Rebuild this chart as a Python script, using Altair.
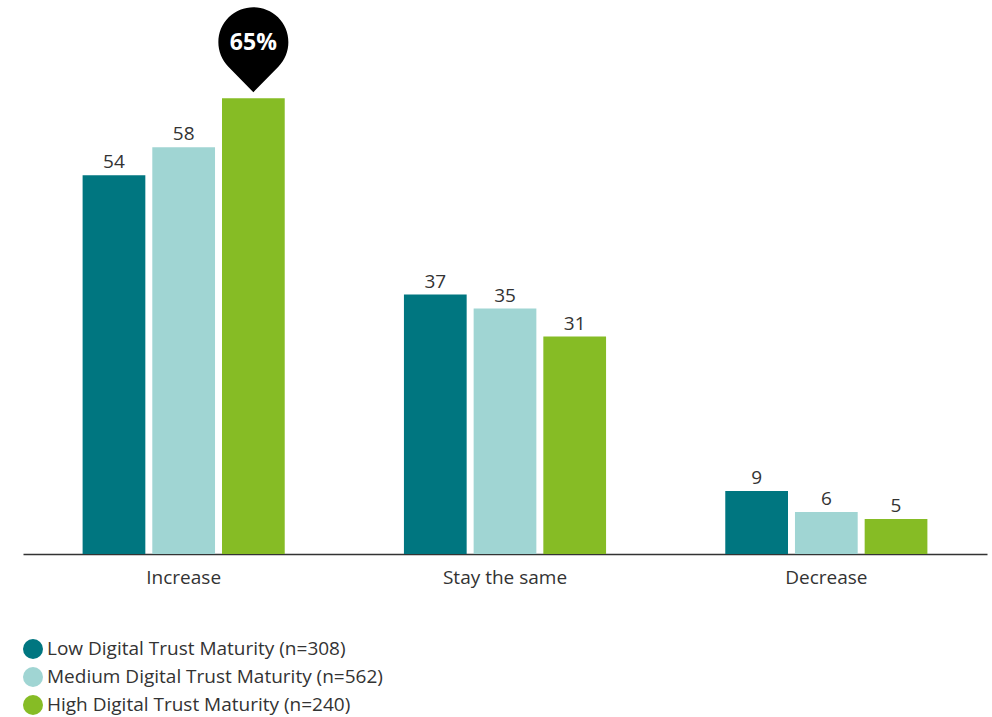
import altair as alt
import pandas as pd

categories = ["Increase", "Stay the same", "Decrease"]
series = [
    "Low Digital Trust Maturity (n=308)",
    "Medium Digital Trust Maturity (n=562)",
    "High Digital Trust Maturity (n=240)",
]
low = [54, 37, 9]
medium = [58, 35, 6]
high = [65, 31, 5]
colors = ["#007680", "#A0D5D3", "#86BC25"]
callout_category = "Increase"
callout_series = series[2]
callout_text = "65%"

rows = []
for s, vals in zip(series, [low, medium, high]):
    for c, v in zip(categories, vals):
        rows.append({
            "category": c,
            "series": s,
            "value": v,
            "callout": bool(c == callout_category and s == callout_series),
            "label": callout_text,
        })
df = pd.DataFrame(rows)

FONT = "Open Sans"
PIN = "M 0 1.43 L -0.714 0.7 A 1 1 0 1 1 0.714 0.7 Z"

base = alt.Chart(df).encode(
    x=alt.X(
        "category:N",
        sort=categories,
        scale=alt.Scale(paddingInner=0.371, paddingOuter=0.1855),
        axis=alt.Axis(
            title=None, labelAngle=0, ticks=False, labelFontSize=19,
            labelColor="#333333", labelPadding=14, domainColor="#333333",
            domainWidth=1.5, labelFont=FONT,
        ),
    ),
    xOffset=alt.XOffset("series:N", sort=series,
                        scale=alt.Scale(paddingInner=0.1, paddingOuter=0)),
    y=alt.Y("value:Q", scale=alt.Scale(domain=[0, 79]), axis=None),
)

bars = base.mark_bar().encode(
    color=alt.Color(
        "series:N",
        sort=series,
        scale=alt.Scale(domain=series, range=colors),
        legend=alt.Legend(
            title=None, orient="none", legendX=0, legendY=639,
            symbolType="circle", symbolSize=400, symbolStrokeWidth=0,
            symbolOpacity=1, labelFontSize=19, labelFont=FONT,
            labelColor="#333333", rowPadding=8, labelOffset=4, padding=0,
            labelLimit=0,
        ),
    )
)

labels = base.transform_filter("!datum.callout").mark_text(
    baseline="bottom", dy=-3, fontSize=19, color="#333333", font=FONT
).encode(text="value:Q")

pin = base.transform_filter("datum.callout").mark_point(
    shape=PIN, size=4900, filled=True, color="#000000", opacity=1,
    strokeWidth=0, yOffset=-56,
)

pin_text = base.transform_filter("datum.callout").mark_text(
    baseline="middle", dy=-55, fontSize=23, fontWeight="bold",
    color="#ffffff", font=FONT,
).encode(text="label:N")

chart = alt.layer(bars, labels, pin, pin_text).properties(
    width=964,
    height=554,
    background="#ffffff",
    autosize=alt.AutoSizeParams(type="none"),
    padding={"left": 23, "top": 0, "right": 5, "bottom": 163},
).configure_view(stroke=None)

chart.save("out.html", embed_options={"renderer": "svg", "actions": False})
